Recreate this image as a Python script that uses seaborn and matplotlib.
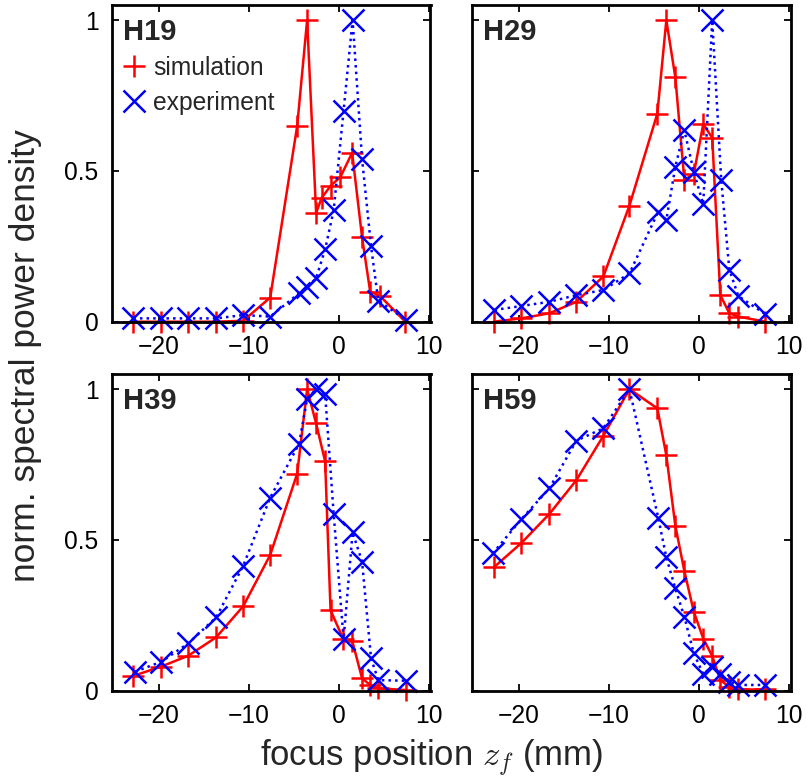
import numpy as np
import pandas as pd
import matplotlib
matplotlib.use("Agg")
import matplotlib.pyplot as plt
from matplotlib.lines import Line2D
import seaborn as sns

sns.set_theme(style="white")
plt.rcParams["font.family"] = ["Liberation Sans", "DejaVu Sans"]
plt.rcParams["mathtext.fontset"] = "cm"

# ---------------- data ----------------
panel_names = ["H19", "H29", "H39", "H59"]

h19_sim_x = [-22.8, -19.7, -16.7, -13.6, -10.6, -7.6, -4.6, -3.5, -2.5, -1.9, -0.9, 0.2, 1.5, 2.6, 3.5, 4.6, 7.4]
h19_sim_y = [0.0, 0.0, 0.0, 0.0, 0.003, 0.08, 0.65, 1.0, 0.36, 0.41, 0.45, 0.48, 0.56, 0.28, 0.10, 0.085, 0.0]
h19_exp_x = [-22.8, -19.7, -16.7, -13.6, -10.6, -7.6, -4.4, -3.5, -2.5, -1.5, -0.55, 0.55, 1.55, 2.6, 3.6, 4.4, 7.5]
h19_exp_y = [0.011, 0.011, 0.011, 0.011, 0.022, 0.017, 0.094, 0.114, 0.144, 0.24, 0.37, 0.70, 1.0, 0.54, 0.25, 0.07, 0.005]

h29_sim_x = [-22.8, -19.7, -16.6, -13.6, -10.6, -7.7, -4.6, -3.6, -2.6, -1.6, -0.55, 0.5, 1.5, 2.4, 3.4, 4.4, 7.4]
h29_sim_y = [0.0, 0.011, 0.028, 0.066, 0.15, 0.385, 0.69, 1.0, 0.81, 0.47, 0.49, 0.655, 0.61, 0.088, 0.028, 0.017, 0.0]
h29_exp_x = [-22.7, -19.7, -16.6, -13.6, -10.6, -7.7, -4.5, -3.6, -2.6, -1.6, -0.55, 0.5, 1.5, 2.5, 3.4, 4.4, 7.4]
h29_exp_y = [0.039, 0.052, 0.066, 0.088, 0.105, 0.16, 0.365, 0.337, 0.514, 0.635, 0.497, 0.39, 1.0, 0.47, 0.173, 0.085, 0.025]

h39_sim_x = [-22.8, -19.7, -16.7, -13.6, -10.6, -7.6, -4.6, -3.5, -2.5, -1.5, -0.9, 0.5, 1.5, 2.6, 3.5, 4.4, 7.5]
h39_sim_y = [0.049, 0.08, 0.116, 0.177, 0.28, 0.45, 0.72, 1.0, 0.886, 0.76, 0.267, 0.172, 0.166, 0.041, 0.019, 0.008, 0.002]
h39_exp_x = [-22.6, -19.7, -16.7, -13.6, -10.6, -7.6, -4.4, -3.5, -2.5, -1.5, -0.55, 0.55, 1.55, 2.6, 3.6, 4.4, 7.5]
h39_exp_y = [0.063, 0.096, 0.157, 0.243, 0.414, 0.64, 0.818, 0.967, 1.0, 0.983, 0.585, 0.171, 0.525, 0.428, 0.107, 0.035, 0.033]

h59_sim_x = [-22.7, -19.7, -16.6, -13.6, -10.6, -7.7, -4.6, -3.6, -2.6, -1.6, -0.55, 0.5, 1.5, 2.4, 3.4, 4.4, 7.4]
h59_sim_y = [0.411, 0.49, 0.586, 0.698, 0.845, 1.0, 0.936, 0.78, 0.547, 0.397, 0.262, 0.173, 0.115, 0.035, 0.013, 0.004, 0.004]
h59_exp_x = [-22.9, -19.7, -16.6, -13.6, -10.6, -7.7, -4.5, -3.6, -2.6, -1.6, -0.55, 0.5, 1.5, 2.4, 3.4, 4.4, 7.4]
h59_exp_y = [0.455, 0.569, 0.671, 0.829, 0.87, 1.0, 0.573, 0.442, 0.339, 0.245, 0.124, 0.055, 0.08, 0.057, 0.03, 0.019, 0.019]

sim_x = [h19_sim_x, h29_sim_x, h39_sim_x, h59_sim_x]
sim_y = [h19_sim_y, h29_sim_y, h39_sim_y, h59_sim_y]
exp_x = [h19_exp_x, h29_exp_x, h39_exp_x, h59_exp_x]
exp_y = [h19_exp_y, h29_exp_y, h39_exp_y, h59_exp_y]

x_ticks = [-20, -10, 0, 10]
y_ticks = [0, 0.5, 1]
y_tick_labels = ["0", "0.5", "1"]
series_labels = ["simulation", "experiment"]

# ---------------- figure ----------------
W, H = 810, 781
fig = plt.figure(figsize=(W / 100, H / 100), dpi=100)

def px_axes(l, t, r, b):
    return fig.add_axes([l / W, 1 - b / H, (r - l) / W, (b - t) / H])

boxes = [(111.7, 5, 430.5, 321.7), (472.0, 5, 790.5, 321.7),
         (111.7, 374, 430.5, 690.7), (472.0, 374, 790.5, 690.7)]

RED = "#ff0000"
BLUE = "#0000ff"
MS = 16
MEW = 1.8
LW = 1.8

for i, (box, name) in enumerate(zip(boxes, panel_names)):
    ax = px_axes(*box)
    sns.lineplot(x=sim_x[i], y=sim_y[i], ax=ax, color=RED, lw=LW,
                 marker="+", markersize=MS, markeredgewidth=MEW,
                 markeredgecolor=RED, sort=False, estimator=None)
    sns.lineplot(x=exp_x[i], y=exp_y[i], ax=ax, color=BLUE, lw=LW, ls=":",
                 marker="x", markersize=MS, markeredgewidth=MEW,
                 markeredgecolor=BLUE, sort=False, estimator=None)
    for ln in ax.lines:
        ln.set_clip_on(False)
    ax.set_xlim(-25.2, 10.2)
    ax.set_ylim(0, 1.05)
    ax.set_xticks(x_ticks)
    ax.set_yticks(y_ticks)
    if i % 2 == 0:
        ax.set_yticklabels(y_tick_labels)
    else:
        ax.set_yticklabels([])
    ax.tick_params(direction="in", length=5, width=1.3, labelsize=17.7,
                   pad=9.5, left=True, right=True, bottom=True, top=True,
                   colors="black")
    for sp in ax.spines.values():
        sp.set_linewidth(2.0)
        sp.set_color("black")
        sp.set_zorder(5)
    ax.set_xlabel("")
    ax.set_ylabel("")
    ax.text(0.036, 0.889, name, transform=ax.transAxes, fontsize=21,
            fontweight="bold", ha="left", va="baseline")
    if i == 0:
        handles = [Line2D([], [], ls="none", marker="+", markersize=MS,
                          markeredgewidth=MEW, color=RED),
                   Line2D([], [], ls="none", marker="x", markersize=MS,
                          markeredgewidth=MEW, color=BLUE)]
        ax.legend(handles, series_labels, loc="upper left",
                  bbox_to_anchor=(0.035, 0.84), frameon=False,
                  fontsize=17.7, handlelength=0.9, handletextpad=0.32,
                  borderpad=0, borderaxespad=0, labelspacing=0.45)

fig.text(26 / W, 1 - 356 / H, "norm. spectral power density", rotation=90,
         ha="center", va="center", fontsize=25.5)
fig.text(431 / W, 1 - 766 / H, "focus position $z_f$ (mm)",
         ha="center", va="baseline", fontsize=25)

fig.savefig("out.png", dpi=100)
